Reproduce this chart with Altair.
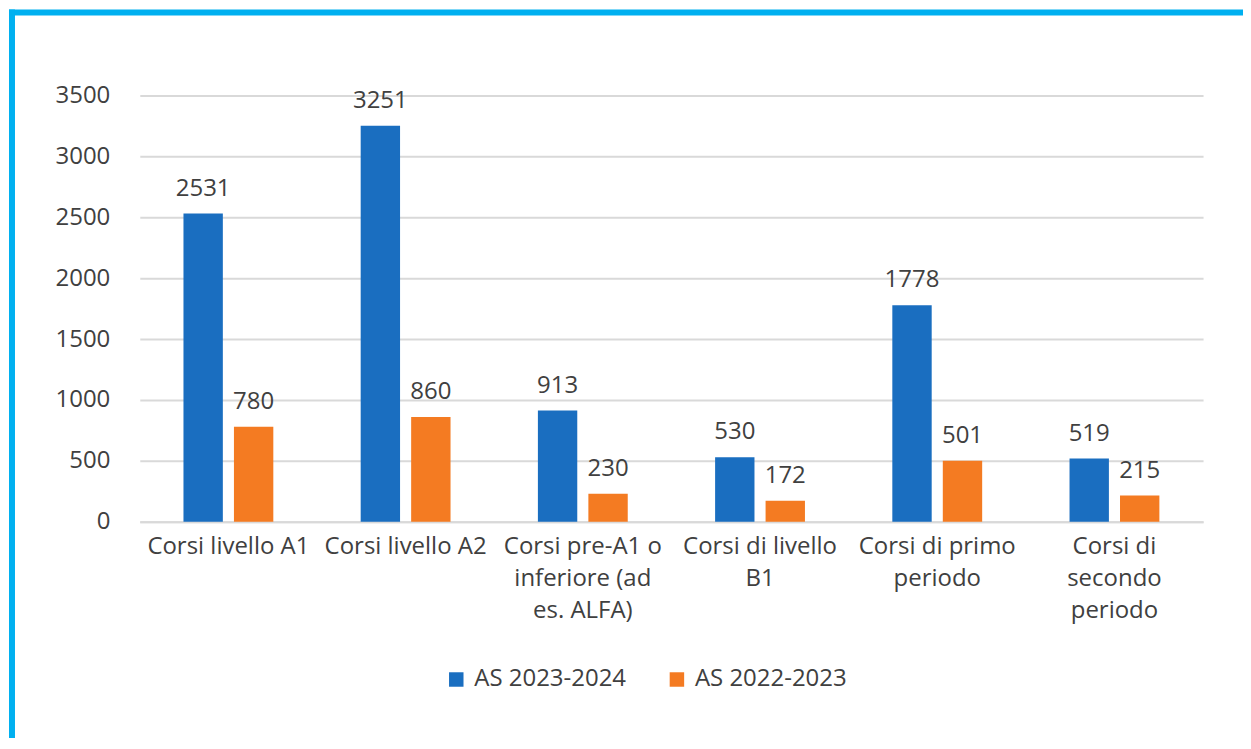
import altair as alt
import pandas as pd

categories = [
    "Corsi livello A1",
    "Corsi livello A2",
    "Corsi pre-A1 o\ninferiore (ad\nes. ALFA)",
    "Corsi di livello\nB1",
    "Corsi di primo\nperiodo",
    "Corsi di\nsecondo\nperiodo",
]
series = ["AS 2023-2024", "AS 2022-2023"]
values_2023_2024 = [2531, 3251, 913, 530, 1778, 519]
values_2022_2023 = [780, 860, 230, 172, 501, 215]
colors = ["#1a6ec0", "#f47b22"]

rows = []
for c, a, b in zip(categories, values_2023_2024, values_2022_2023):
    rows.append({"cat": c, "serie": series[0], "val": a})
    rows.append({"cat": c, "serie": series[1], "val": b})
df = pd.DataFrame(rows)

FONT = "Open Sans"
TXT = "#404040"
FS = 24
W, H = 1065, 427

x_enc = alt.X("cat:N", sort=categories, title=None,
              scale=alt.Scale(paddingInner=0.493, paddingOuter=0.2465),
              axis=alt.Axis(labelExpr="split(datum.label, '\\n')", labelAngle=0,
                            labelFontSize=FS, labelColor=TXT, labelFont=FONT,
                            labelLineHeight=32, labelPadding=13, ticks=False,
                            domain=True, domainColor="#d9d9d9", domainWidth=2,
                            labelBaseline="top", labelOverlap=False, labelLimit=0))
xo = alt.XOffset("serie:N", sort=series, scale=alt.Scale(paddingInner=0.22, paddingOuter=0))
y_enc = alt.Y("val:Q", title=None,
              scale=alt.Scale(domain=[0, 3500], nice=False),
              axis=alt.Axis(values=[0, 500, 1000, 1500, 2000, 2500, 3000, 3500], format="d",
                            labelFontSize=FS, labelColor=TXT, labelFont=FONT,
                            labelPadding=30, ticks=False, domain=False,
                            gridColor="#d9d9d9", gridWidth=2))

base = alt.Chart(df)
bars = base.mark_bar().encode(
    x=x_enc, xOffset=xo, y=y_enc,
    color=alt.Color("serie:N", sort=series,
                    scale=alt.Scale(domain=series, range=colors),
                    legend=alt.Legend(title=None, orient="none", direction="horizontal",
                                      legendX=305, legendY=573, symbolType="square",
                                      symbolSize=210, symbolStrokeWidth=0,
                                      labelFontSize=FS, labelFont=FONT, labelColor=TXT,
                                      columnPadding=38, labelOffset=6, labelLimit=0)),
)
labels = base.mark_text(baseline="bottom", dy=-13, fontSize=FS, font=FONT, color=TXT).encode(
    x=alt.X("cat:N", sort=categories), xOffset=alt.XOffset("serie:N", sort=series),
    y="val:Q", text="val:Q",
)

frame_data = alt.Data(values=[{"k": 1}])
top_line = alt.Chart(frame_data).mark_rule(color="#00b0f0", strokeWidth=6).encode(
    x=alt.value(-131), x2=alt.value(1300), y=alt.value(-83))
left_line = alt.Chart(frame_data).mark_rule(color="#00b0f0", strokeWidth=6).encode(
    x=alt.value(-128), y=alt.value(-86), y2=alt.value(800))

chart = alt.layer(bars, labels, top_line, left_line).properties(
    width=W, height=H,
    autosize=alt.AutoSizeParams(type="none"),
    padding={"left": 132, "top": 87, "right": 40, "bottom": 216},
).configure(background="white").configure_view(stroke=None)

chart.save("out.html", embed_options={"renderer": "svg", "actions": False})
